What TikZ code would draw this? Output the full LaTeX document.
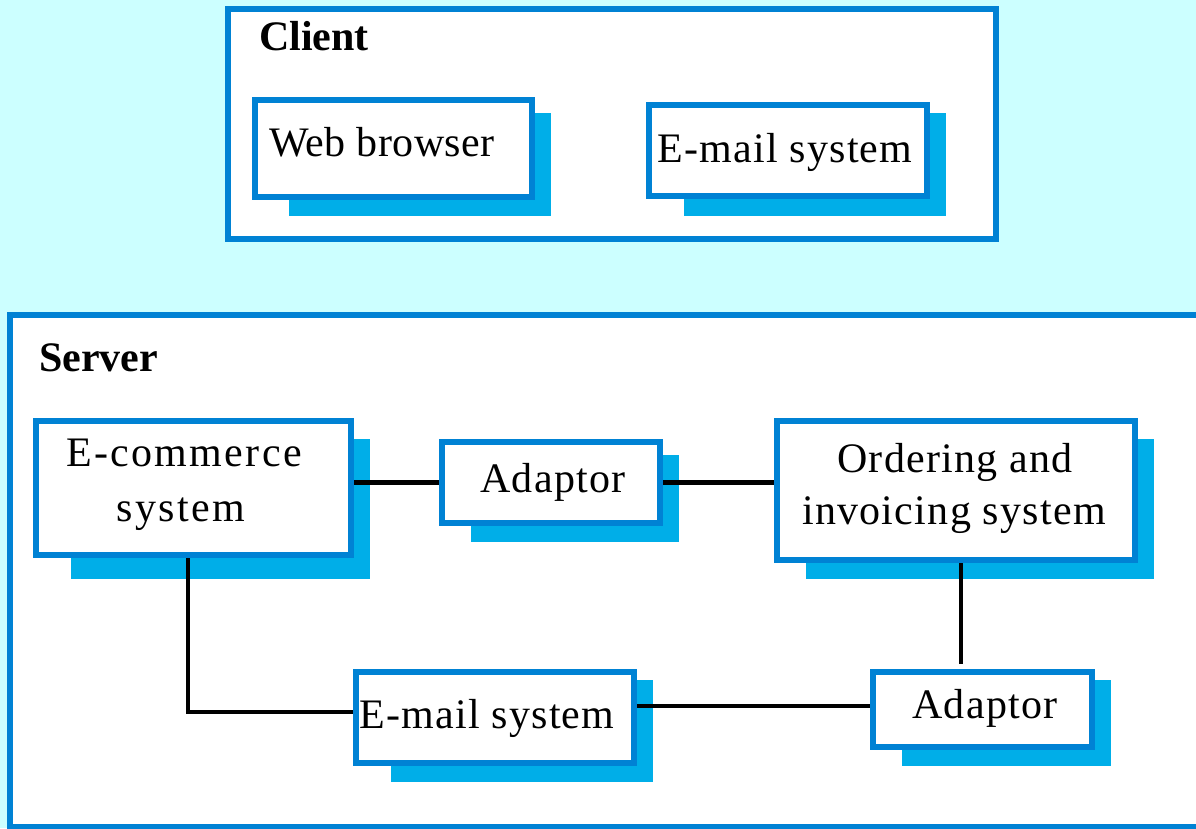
\documentclass[tikz,border=0pt]{standalone}
\usepackage{fontspec}
\setmainfont{Liberation Serif}
\definecolor{bgcyan}{HTML}{CCFFFF}
\definecolor{boxblue}{HTML}{0082D4}
\definecolor{shadowblue}{HTML}{00AEE8}
\tikzset{
  frame/.style={draw=boxblue, line width=6pt, fill=white},
  box/.style={draw=boxblue, line width=6pt, fill=white, inner sep=0pt},
  shadowfill/.style={fill=shadowblue},
  conn/.style={draw=black, line width=4.5pt},
  lbl/.style={inner sep=0pt, font=\fontsize{42}{50}\selectfont\addfontfeatures{LetterSpace=3}},
  widelbl/.style={inner sep=0pt, font=\fontsize{42}{50}\selectfont\addfontfeatures{LetterSpace=5.5}},
  title/.style={inner sep=0pt, font=\fontsize{42}{50}\selectfont\bfseries},
}
\begin{document}
\begin{tikzpicture}[x=1pt,y=-1pt]
\useasboundingbox (0,0) rectangle (1196,828);
\clip (0,0) rectangle (1196,828);
\fill[bgcyan] (0,0) rectangle (1196,828);
% frames
\draw[frame] (228,9) rectangle (996,239);
\draw[frame] (10,315) rectangle (1215,827);
\node[title, anchor=base west] (tclient) at (259,50) {Client};
\node[title, anchor=base west] (tserver) at (39,371) {Server};
% shadows
\fill[shadowfill] (289,113) rectangle (551,216);
\fill[shadowfill] (684,113) rectangle (946,216);
\fill[shadowfill] (71,439) rectangle (370,579);
\fill[shadowfill] (471,455) rectangle (679,542);
\fill[shadowfill] (806,439) rectangle (1154,579);
\fill[shadowfill] (391,680) rectangle (653,782);
\fill[shadowfill] (902,680) rectangle (1111,766);
% boxes
\node[box, minimum width=277pt, minimum height=97pt] (web) at (393.5,148.5) {};
\node[box, minimum width=278pt, minimum height=91pt] (cmail) at (788,150.5) {};
\node[box, minimum width=315pt, minimum height=134pt] (ecom) at (193.5,488) {};
\node[box, minimum width=218pt, minimum height=81pt] (ad1) at (551,482.5) {};
\node[box, minimum width=358pt, minimum height=139pt] (ord) at (956,490.5) {};
\node[box, minimum width=278pt, minimum height=91pt] (smail) at (495,717.5) {};
\node[box, minimum width=219pt, minimum height=75pt] (ad2) at (982.5,709.5) {};
% labels
\node[inner sep=0pt, font=\fontsize{42}{50}\selectfont\addfontfeatures{LetterSpace=1}, anchor=base west] (lweb) at (269,156) {Web browser};
\node[lbl, anchor=base west] (lcmail) at (657,162) {E-mail system};
\node[widelbl, anchor=base] (lecom1) at (184,466) {E-commerce};
\node[widelbl, anchor=base] (lecom2) at (181,521) {system};
\node[lbl, anchor=base] (lad1) at (553,492) {Adaptor};
\node[lbl, anchor=base] (lord1) at (955,472) {Ordering and};
\node[lbl, anchor=base] (lord2) at (954,524) {invoicing system};
\node[lbl, anchor=base west] (lsmail) at (359,728) {E-mail system};
\node[lbl, anchor=base] (lad2) at (985,718) {Adaptor};
% connectors
\coordinate (c1) at (961,664);
\coordinate (c2) at (188,712);
\coordinate (c3) at (700,706);
\draw[conn] (ad1.west -| ecom.east) -- (ad1.west);
\draw[conn] (ad1.east) -- (ad1.east -| ord.west);
\draw[conn] (c1 |- ord.south) -- (c1);
\draw[conn] (c2 |- ecom.south) -- (c2) -- (c2 -| smail.west);
\draw[conn] (smail.east |- c3) -- (ad2.west |- c3);
\end{tikzpicture}
\end{document}
